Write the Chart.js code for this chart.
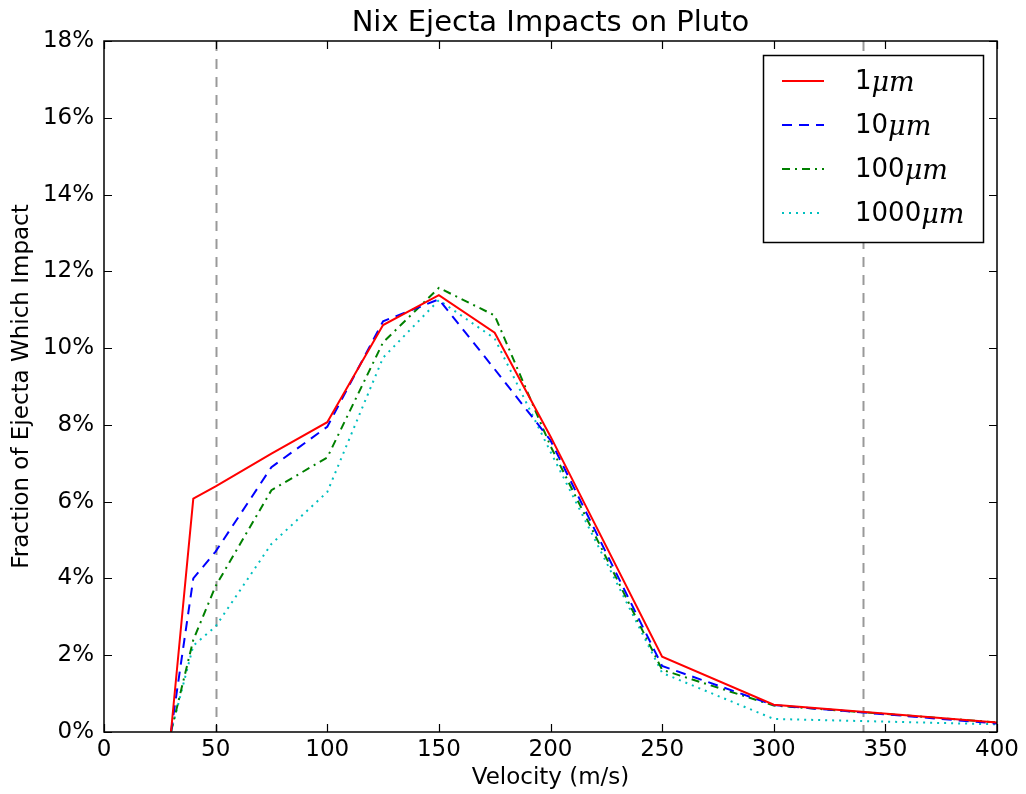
<!DOCTYPE html>
<html>
<head>
<meta charset="utf-8">
<script src="https://cdn.jsdelivr.net/npm/chart.js@4.4.0/dist/chart.umd.min.js"></script>
<style>
  html, body { margin: 0; padding: 0; background: #fff; }
  #wrap { width: 1026px; height: 794px; }
</style>
</head>
<body>
<div id="wrap"><canvas id="chart" width="1026" height="794"></canvas></div>
<script>
// Impact fraction (%) against launch velocity for four grain sizes
const velocity = [30, 40, 50, 75, 100, 125, 150, 175, 200, 250, 300, 400];
const frac1um = [0, 6.08, 6.4, 7.25, 8.07, 10.6, 11.38, 10.4, 7.7, 1.96, 0.71, 0.25];
const frac10um = [0, 4.0, 4.7, 6.9, 7.95, 10.7, 11.27, 9.45, 7.6, 1.72, 0.7, 0.22];
const frac100um = [0, 2.4, 3.8, 6.3, 7.15, 10.15, 11.57, 10.85, 7.45, 1.62, 0.69, 0.25];
const frac1000um = [0, 2.25, 2.75, 4.9, 6.25, 9.75, 11.25, 10.25, 7.3, 1.54, 0.34, 0.2];

const sizeLabels = ["1", "10", "100", "1000"];
const xTicks = [0, 50, 100, 150, 200, 250, 300, 350, 400];
const yTicks = [0, 2, 4, 6, 8, 10, 12, 14, 16, 18];
const markerVelocities = [50, 340]; // grey reference lines

const FONT = "'DejaVu Sans', sans-serif";

function pts(ys) {
  return velocity.map((v, i) => ({ x: v, y: ys[i] }));
}

const series = [
  { data: frac1um, color: "#ff0000", dash: [] },
  { data: frac10um, color: "#0000ff", dash: [10, 7] },
  { data: frac100um, color: "#008000", dash: [8, 5, 2, 5] },
  { data: frac1000um, color: "#00bfbf", dash: [2, 5] }
];

// frame, inward ticks on all sides, reference lines, title, legend
const decor = {
  id: "decor",
  beforeDatasetsDraw(chart) {
    const { ctx, chartArea: a, scales: { x } } = chart;
    ctx.save();
    ctx.strokeStyle = "#999999";
    ctx.lineWidth = 2;
    ctx.setLineDash([10, 8]);
    markerVelocities.forEach(v => {
      const px = Math.round(x.getPixelForValue(v)) + 0.5;
      ctx.beginPath();
      ctx.moveTo(px, a.top);
      ctx.lineTo(px, a.bottom);
      ctx.stroke();
    });
    ctx.restore();
  },
  afterDraw(chart) {
    const { ctx, chartArea: a, scales: { x, y } } = chart;
    ctx.save();
    ctx.strokeStyle = "#000";
    ctx.lineWidth = 1.5;
    ctx.setLineDash([]);
    ctx.strokeRect(a.left, a.top, a.right - a.left, a.bottom - a.top);
    const tl = 8;
    ctx.lineWidth = 1.2;
    xTicks.forEach(v => {
      const px = Math.round(x.getPixelForValue(v)) + 0.5;
      ctx.beginPath();
      ctx.moveTo(px, a.bottom); ctx.lineTo(px, a.bottom - tl);
      ctx.moveTo(px, a.top); ctx.lineTo(px, a.top + tl);
      ctx.stroke();
    });
    yTicks.forEach(v => {
      const py = Math.round(y.getPixelForValue(v)) + 0.5;
      ctx.beginPath();
      ctx.moveTo(a.left, py); ctx.lineTo(a.left + tl, py);
      ctx.moveTo(a.right, py); ctx.lineTo(a.right - tl, py);
      ctx.stroke();
    });

    // title
    ctx.fillStyle = "#000";
    ctx.font = "29px " + FONT;
    ctx.textAlign = "center";
    ctx.textBaseline = "alphabetic";
    ctx.fillText("Nix Ejecta Impacts on Pluto", (a.left + a.right) / 2, 31);

    // legend
    const bx = 763, by = 55, bw = 220, bh = 187;
    ctx.fillStyle = "#fff";
    ctx.fillRect(bx, by, bw, bh);
    ctx.strokeStyle = "#000";
    ctx.lineWidth = 1.5;
    ctx.strokeRect(bx + 0.5, by + 0.5, bw, bh);
    const rows = [81, 125, 169, 213];
    chart.data.datasets.forEach((ds, i) => {
      const ry = rows[i];
      ctx.strokeStyle = ds.borderColor;
      ctx.lineWidth = ds.borderWidth;
      ctx.setLineDash(ds.borderDash || []);
      ctx.beginPath();
      ctx.moveTo(782, ry); ctx.lineTo(824, ry);
      ctx.stroke();
      ctx.setLineDash([]);
      ctx.fillStyle = "#000";
      ctx.textAlign = "left";
      ctx.textBaseline = "middle";
      ctx.font = "26px " + FONT;
      ctx.fillText(sizeLabels[i], 855, ry + 1);
      const w = ctx.measureText(sizeLabels[i]).width;
      ctx.font = "italic 27px 'DejaVu Serif', serif";
      ctx.fillText("\u03bcm", 855 + w, ry + 3);
    });
    ctx.restore();
  }
};

new Chart(document.getElementById("chart").getContext("2d"), {
  type: "line",
  data: {
    datasets: series.map((s, i) => ({
      label: sizeLabels[i] + "\u03bcm",
      data: pts(s.data),
      borderColor: s.color,
      borderDash: s.dash,
      borderWidth: 2,
      pointRadius: 0,
      fill: false,
      tension: 0
    }))
  },
  options: {
    responsive: false,
    animation: false,
    layout: { padding: { top: 41, right: 29, left: 8, bottom: 0 } },
    plugins: { legend: { display: false }, tooltip: { enabled: false }, title: { display: false } },
    scales: {
      x: {
        type: "linear",
        min: 0,
        max: 400,
        afterBuildTicks: s => { s.ticks = xTicks.map(v => ({ value: v })); },
        afterFit: s => { s.height = 62; },
        grid: { display: false, drawTicks: false },
        border: { display: false },
        ticks: { color: "#000", font: { family: FONT, size: 23 }, padding: 4, maxRotation: 0 },
        title: { display: true, text: "Velocity (m/s)", color: "#000", font: { family: FONT, size: 23 }, padding: { top: 0, bottom: 2 } }
      },
      y: {
        min: 0,
        max: 18,
        afterBuildTicks: s => { s.ticks = yTicks.map(v => ({ value: v })); },
        afterFit: s => { s.width = 96; },
        grid: { display: false, drawTicks: false },
        border: { display: false },
        ticks: { color: "#000", font: { family: FONT, size: 23 }, padding: 10, callback: v => v + "%" },
        title: { display: true, text: "Fraction of Ejecta Which Impact", color: "#000", font: { family: FONT, size: 23 }, padding: { top: 0, bottom: 4 } }
      }
    }
  },
  plugins: [decor]
});
</script>
</body>
</html>
